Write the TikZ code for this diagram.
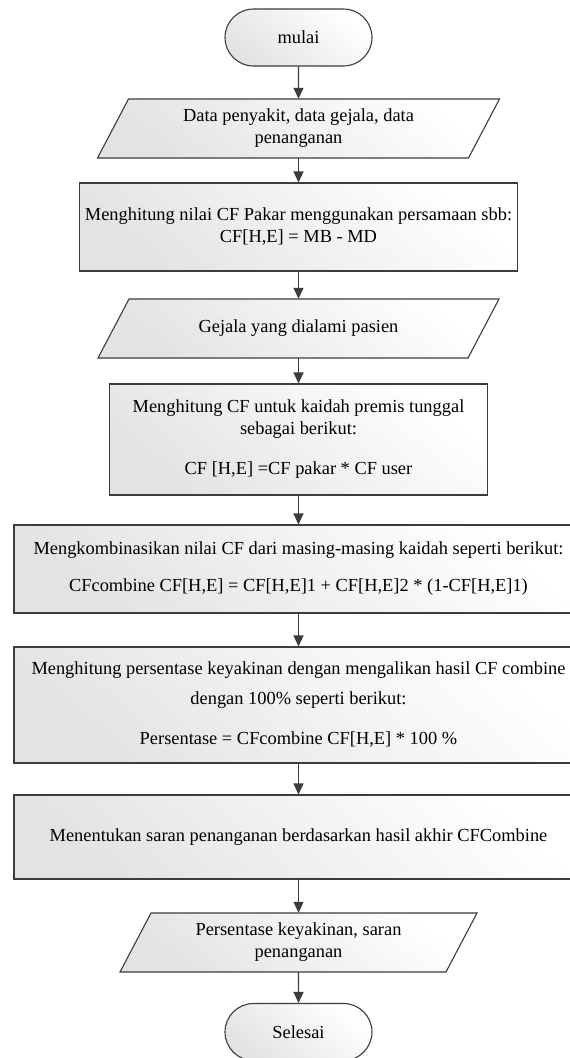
\documentclass[tikz,border=0pt]{standalone}
\usepackage{fontspec}
\setmainfont{Liberation Serif}
\usetikzlibrary{arrows.meta,shapes.misc}
\definecolor{edge}{HTML}{3C3C3C}
\newcommand\bodyfont{\fontsize{18.4}{22}\selectfont}
\tikzset{
  boxlook/.style={draw=edge, line width=1.1pt, top color=white, bottom color=black!11, shading angle=-40},
  procbox/.style={boxlook, rectangle, inner sep=0pt, align=center, font=\bodyfont},
  termbox/.style={boxlook, rounded rectangle, minimum width=147pt, minimum height=57pt, inner sep=0pt, font=\bodyfont},
  iotext/.style={rectangle, inner sep=0pt, minimum height=59pt, minimum width=280pt, align=center, font=\bodyfont},
  flow/.style={draw=edge, line width=1.1pt, -{Triangle[length=11pt,width=10pt]}},
}
% input/output parallelogram: centre x, centre y, mid width, height
\newcommand\iopath[4]{%
  \path[boxlook] (#1-#3/2-15.5,#2+#4/2) -- (#1+#3/2-15.5,#2+#4/2)
    -- (#1+#3/2+15.5,#2-#4/2) -- (#1-#3/2+15.5,#2-#4/2) -- cycle;}
\begin{document}
\begin{tikzpicture}[x=1pt,y=-1pt]
\useasboundingbox (0,0) rectangle (570,1058);
\fill[white] (0,0) rectangle (570,1058);
\clip (0,0) rectangle (570,1058);

\node[termbox] (start) at (298.5,37.5) {mulai};

\iopath{298.5}{128.5}{371}{59}
\node[iotext] (data) at (298.5,128.5) {Data penyakit, data gejala, data\\penanganan};

\node[procbox, minimum width=438pt, minimum height=88pt] (cfpakar) at (298.5,227)
  {Menghitung nilai CF Pakar menggunakan persamaan sbb:\\CF[H,E] = MB - MD};

\iopath{298.5}{328.5}{370}{59}
\node[iotext] (gejala) at (298.5,328.5) {Gejala yang dialami pasien};

\node[procbox, minimum width=378pt, minimum height=111pt] (premis) at (298.5,439.5)
  {Menghitung CF untuk kaidah premis tunggal\\sebagai berikut:\\[18pt]CF [H,E] =CF pakar * CF user};

\node[procbox, minimum width=569pt, minimum height=88pt] (combine) at (298.5,569)
  {Mengkombinasikan nilai CF dari masing-masing kaidah seperti berikut:\\[15pt]CFcombine CF[H,E] = CF[H,E]1 + CF[H,E]2 * (1-CF[H,E]1)};

\node[procbox, minimum width=569pt, minimum height=116pt] (persen) at (298.5,705)
  {Menghitung persentase keyakinan dengan mengalikan hasil CF combine\\[8pt]dengan 100\% seperti berikut:\\[18pt]Persentase = CFcombine CF[H,E] * 100 \%};

\node[procbox, minimum width=569pt, minimum height=84pt] (saran) at (298.5,837)
  {Menentukan saran penanganan berdasarkan hasil akhir CFCombine};

\iopath{298.5}{942.5}{326}{59}
\node[iotext] (hasil) at (298.5,942.5) {Persentase keyakinan, saran\\penanganan};

\node[termbox] (finish) at (298.5,1032) {Selesai};

\draw[flow] (start) -- (data);
\draw[flow] (data) -- (cfpakar);
\draw[flow] (cfpakar) -- (gejala);
\draw[flow] (gejala) -- (premis);
\draw[flow] (premis) -- (combine);
\draw[flow] (combine) -- (persen);
\draw[flow] (persen) -- (saran);
\draw[flow] (saran) -- (hasil);
\draw[flow] (hasil) -- (finish);
\end{tikzpicture}
\end{document}
